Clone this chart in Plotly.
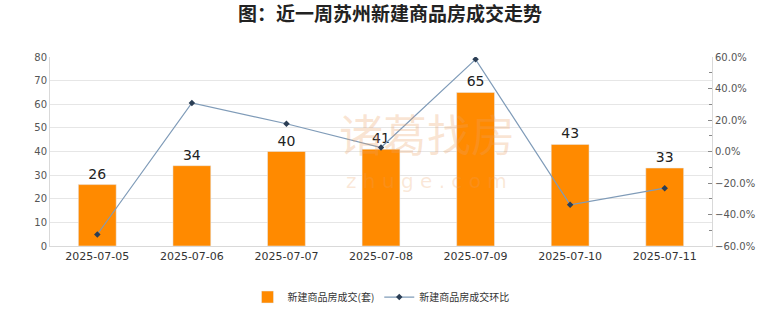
import plotly.graph_objects as go

dates = ["2025-07-05", "2025-07-06", "2025-07-07", "2025-07-08", "2025-07-09", "2025-07-10", "2025-07-11"]
deals = [26, 34, 40, 41, 65, 43, 33]
ratio = [-52.7, 30.8, 17.6, 2.5, 58.5, -33.8, -23.3]

fig = go.Figure()
fig.add_trace(go.Bar(
    x=dates, y=deals, name="新建商品房成交(套)",
    marker=dict(color="#FF8A00"),
    text=deals, textposition="outside", cliponaxis=False,
    textfont=dict(size=14, color="#222222", family="DejaVu Sans"),
))
fig.add_trace(go.Scatter(
    x=dates, y=ratio, name="新建商品房成交环比", yaxis="y2",
    mode="lines+markers",
    line=dict(color="#7F9BB8", width=1.2),
    marker=dict(symbol="diamond", size=5, color="#2B3E55"),
))

fig.add_annotation(text="诸葛找房", xref="paper", yref="paper", x=0.569, y=0.60,
                   showarrow=False, font=dict(size=44, color="rgba(235,160,100,0.28)",
                                              family="Noto Sans CJK SC"))
fig.add_annotation(text="z h u g e . c o m", xref="paper", yref="paper", x=0.569, y=0.27,
                   showarrow=False, font=dict(size=20, color="rgba(235,160,100,0.25)",
                                              family="DejaVu Sans"))

fig.update_layout(
    width=780, height=328,
    margin=dict(l=50, r=68, t=57, b=82),
    paper_bgcolor="white", plot_bgcolor="white",
    title=dict(text="<b>图：近一周苏州新建商品房成交走势</b>", x=0.5, xanchor="center",
               y=0.955, yanchor="middle",
               font=dict(size=19, color="#222222", family="Noto Sans CJK SC")),
    font=dict(family="Noto Sans CJK SC", size=11, color="#444444"),
    xaxis=dict(type="category", showgrid=False, showline=True, linecolor="#d9d9d9",
               tickfont=dict(size=11, color="#333333", family="DejaVu Sans")),
    yaxis=dict(range=[0, 80], dtick=10, showgrid=True, gridcolor="#e6e6e6",
               showline=True, linecolor="#d9d9d9", zeroline=False,
               tickfont=dict(size=10, color="#555555", family="DejaVu Sans")),
    yaxis2=dict(range=[-60, 60], dtick=20, overlaying="y", side="right",
                showgrid=False, zeroline=False, showline=True, linecolor="#d9d9d9",
                ticks="inside", ticklen=4, tickcolor="#888888",
                minor=dict(dtick=10, ticks="inside", ticklen=3, tickcolor="#888888"),
                ticksuffix="%", tickformat=".1f",
                tickfont=dict(size=10, color="#555555", family="DejaVu Sans")),
    legend=dict(orientation="h", x=0.5, xanchor="center", y=-0.27, yanchor="middle",
                font=dict(size=10, color="#333333", family="Noto Sans CJK SC")),
    bargap=0.6, showlegend=True,
)

fig.write_html("out.html")
